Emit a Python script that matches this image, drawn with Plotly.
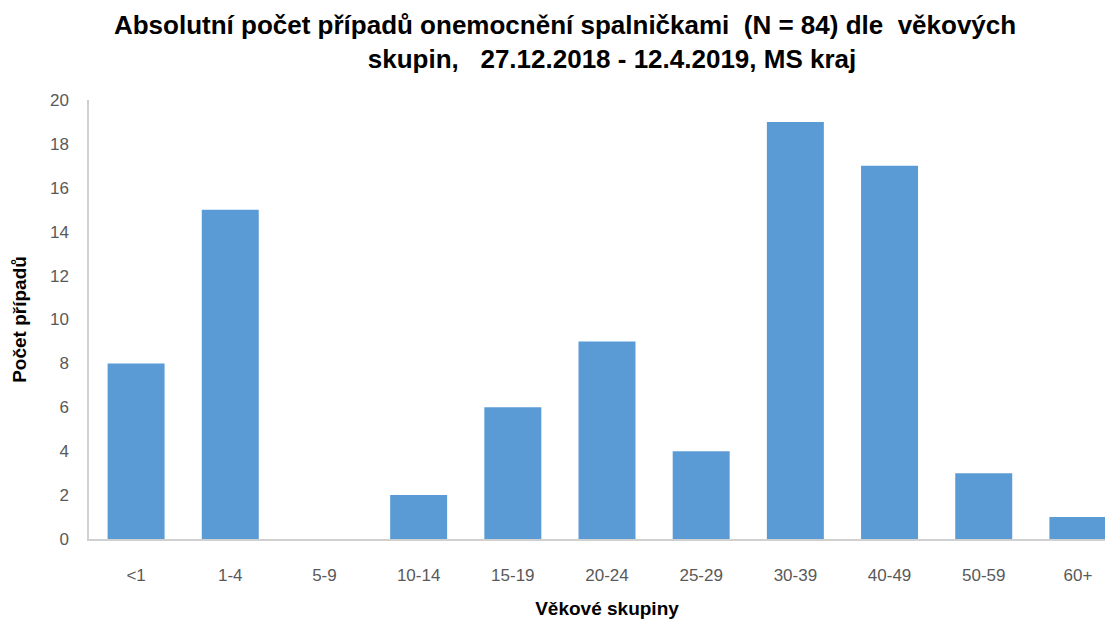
import plotly.graph_objects as go

categories = ["<1", "1-4", "5-9", "10-14", "15-19", "20-24", "25-29", "30-39", "40-49", "50-59", "60+"]
cases = [8, 15, 0, 2, 6, 9, 4, 19, 17, 3, 1]
y_ticks = [0, 2, 4, 6, 8, 10, 12, 14, 16, 18, 20]

title_line1 = "Absolutní počet případů onemocnění spalničkami  (N = 84) dle  věkových"
title_line2 = "skupin,   27.12.2018 - 12.4.2019, MS kraj"

font_family = "Liberation Sans, Arial, sans-serif"

fig = go.Figure(go.Bar(x=categories, y=cases, marker=dict(color="#5B9BD5", line=dict(width=0))))

fig.update_layout(
    width=1117, height=618,
    paper_bgcolor="white", plot_bgcolor="white",
    margin=dict(l=81, r=0, t=92, b=87, autoexpand=False),
    bargap=0.395,
    showlegend=False,
    title=dict(
        text=title_line1 + "<br>" + " " * 13 + title_line2,
        x=0.4987, xanchor="center", xref="container",
        y=0.958, yanchor="top", yref="container",
        font=dict(family=font_family, size=26, color="#000000", weight="bold"),
    ),
    xaxis=dict(
        showline=True, linecolor="#D0D0D0", linewidth=1.5,
        showgrid=False, ticks="", ticklabelstandoff=20,
        tickfont=dict(family=font_family, size=17, color="#595959"),
        title=dict(text="Věkové skupiny", standoff=18,
                   font=dict(family=font_family, size=19, color="#000000", weight="bold")),
    ),
    yaxis=dict(
        range=[0, 20], tickvals=y_ticks, showline=True, linecolor="#D0D0D0", linewidth=1.5,
        showgrid=False, ticks="", zeroline=False, ticklabelstandoff=15,
        tickfont=dict(family=font_family, size=17, color="#595959"),
        title=dict(text="Počet případů", standoff=18,
                   font=dict(family=font_family, size=19, color="#000000", weight="bold")),
    ),
)

fig.write_html("out.html")
